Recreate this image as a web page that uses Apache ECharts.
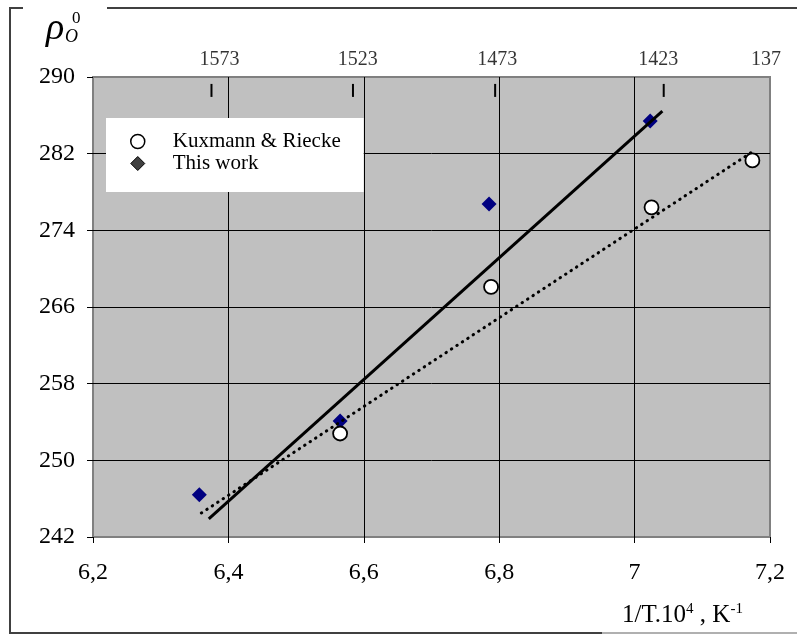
<!DOCTYPE html>
<html>
<head>
<meta charset="utf-8">
<script src="https://cdn.jsdelivr.net/npm/echarts@6/dist/echarts.min.js"></script>
<style>
  html, body { margin: 0; padding: 0; background: #fff; }
  #chart { width: 797px; height: 635px; }
</style>
</head>
<body>
<div id="chart"></div>
<script>
// Kuxmann & Riecke (open circles)
var kuxX = [6.565, 6.788, 7.025, 7.174];
var kuxY = [252.8, 268.1, 276.4, 281.3];
// This work (diamonds)
var workX = [6.357, 6.565, 6.785, 7.023];
var workY = [246.4, 254.1, 276.75, 285.4];
// fitted lines (end points)
var fitWorkX = [6.371, 7.041];
var fitWorkY = [243.9, 286.45];
var fitKuxX = [6.360, 7.174];
var fitKuxY = [244.5, 282.2];
// temperature scale along the top
var tempTickX = [6.375, 6.584, 6.794, 7.043];
var tempLabelX = [6.387, 6.591, 6.797, 7.035, 7.194];
var tempLabels = ['1573', '1523', '1473', '1423', '137'];

var serif = '"Liberation Serif", "DejaVu Serif", serif';

function pairs(xs, ys) {
  return xs.map(function (x, i) { return [x, ys[i]]; });
}

var chart = echarts.init(document.getElementById('chart'));

var option = {
  animation: false,
  backgroundColor: '#fff',
  grid: {
    left: 93, right: 27, top: 77, bottom: 98,
    show: true,
    backgroundColor: '#c0c0c0',
    borderColor: '#808080',
    borderWidth: 2
  },
  legend: {
    left: 106, top: 118,
    orient: 'vertical',
    backgroundColor: '#fff',
    padding: [13, 23, 18, 24],
    itemWidth: 14, itemHeight: 14,
    itemGap: 1,
    textStyle: { fontFamily: serif, fontSize: 21, color: '#000', lineHeight: 21, padding: [0, 0, 0, 23] },
    data: [
      { name: 'Kuxmann & Riecke', icon: 'circle', itemStyle: { color: '#fff', borderColor: '#000', borderWidth: 1.5, opacity: 1 } },
      { name: 'This work', icon: 'diamond', itemStyle: { color: '#404040', borderColor: '#000', borderWidth: 1, opacity: 1 } }
    ]
  },
  xAxis: {
    type: 'value',
    min: 6.2, max: 7.2, interval: 0.2,
    axisLine: { show: false },
    axisTick: { show: true, length: 6, lineStyle: { color: '#000' } },
    axisLabel: {
      margin: 24,
      fontFamily: serif, fontSize: 24, color: '#000',
      formatter: function (v) { return String(Math.round(v * 10) / 10).replace('.', ','); }
    },
    splitLine: { show: true, showMinLine: false, showMaxLine: false, lineStyle: { color: '#000', width: 1 } }
  },
  yAxis: {
    type: 'value',
    min: 242, max: 290, interval: 8,
    axisLine: { show: false },
    axisTick: { show: true, length: 6, lineStyle: { color: '#000' } },
    axisLabel: { margin: 18, fontFamily: serif, fontSize: 24, color: '#000' },
    splitLine: { show: true, showMinLine: false, showMaxLine: false, lineStyle: { color: '#000', width: 1 } }
  },
  graphic: [
    { type: 'polyline', shape: { points: [[23, 8], [10, 8], [10, 633], [602, 633]] }, style: { stroke: '#404040', lineWidth: 2, fill: null } },
    { type: 'line', shape: { x1: 107, y1: 8, x2: 797, y2: 8 }, style: { stroke: '#404040', lineWidth: 2 } },
    { type: 'line', shape: { x1: 602, y1: 633, x2: 797, y2: 633 }, style: { stroke: '#b0b0b0', lineWidth: 2 } },
    { type: 'text', x: 46, y: 29, style: { text: 'ρ', fontFamily: serif, fontStyle: 'italic', fontSize: 38, fill: '#000', verticalAlign: 'middle' } },
    { type: 'text', x: 65, y: 37, style: { text: 'O', fontFamily: serif, fontStyle: 'italic', fontSize: 18, fill: '#000', verticalAlign: 'middle' } },
    { type: 'text', x: 72, y: 19, style: { text: '0', fontFamily: serif, fontSize: 17, fill: '#000', verticalAlign: 'middle' } },
    {
      type: 'text', x: 622, y: 615,
      style: {
        text: '{a|1/T.10}{b|4}{a| , K}{b|-1}',
        verticalAlign: 'middle',
        fill: '#000',
        rich: {
          a: { fontFamily: serif, fontSize: 25, lineHeight: 26, verticalAlign: 'bottom' },
          b: { fontFamily: serif, fontSize: 15, lineHeight: 26, verticalAlign: 'top' }
        }
      }
    }
  ],
  series: [
    {
      name: 'temperature ticks',
      type: 'scatter',
      symbol: 'rect',
      symbolSize: [2, 13],
      itemStyle: { color: '#000', opacity: 1 },
      silent: true,
      data: tempTickX.map(function (x) { return [x, 288.6]; })
    },
    {
      name: 'temperature labels',
      type: 'scatter',
      clip: false,
      symbolSize: 1,
      itemStyle: { color: 'rgba(0,0,0,0)' },
      silent: true,
      label: { show: true, position: 'inside', fontFamily: serif, fontSize: 20, color: '#000' },
      data: tempLabelX.map(function (x, i) {
        return { value: [x, 291.8], label: { formatter: tempLabels[i] } };
      })
    },
    {
      name: 'This work',
      type: 'scatter',
      symbol: 'diamond',
      symbolSize: 15,
      itemStyle: { color: '#000080', opacity: 1 },
      data: pairs(workX, workY),
      z: 3
    },
    {
      name: 'fit this work',
      type: 'line',
      symbol: 'none',
      lineStyle: { color: '#000', width: 3 },
      data: pairs(fitWorkX, fitWorkY),
      z: 4
    },
    {
      name: 'fit kuxmann',
      type: 'line',
      symbol: 'none',
      lineStyle: { color: '#000', width: 3, type: [0.5, 6], cap: 'round' },
      data: pairs(fitKuxX, fitKuxY),
      z: 4
    },
    {
      name: 'Kuxmann & Riecke',
      type: 'scatter',
      symbol: 'circle',
      symbolSize: 14,
      itemStyle: { color: '#fff', borderColor: '#000', borderWidth: 1.8, opacity: 1 },
      data: pairs(kuxX, kuxY),
      z: 5
    }
  ]
};

chart.setOption(option);
</script>
</body>
</html>
